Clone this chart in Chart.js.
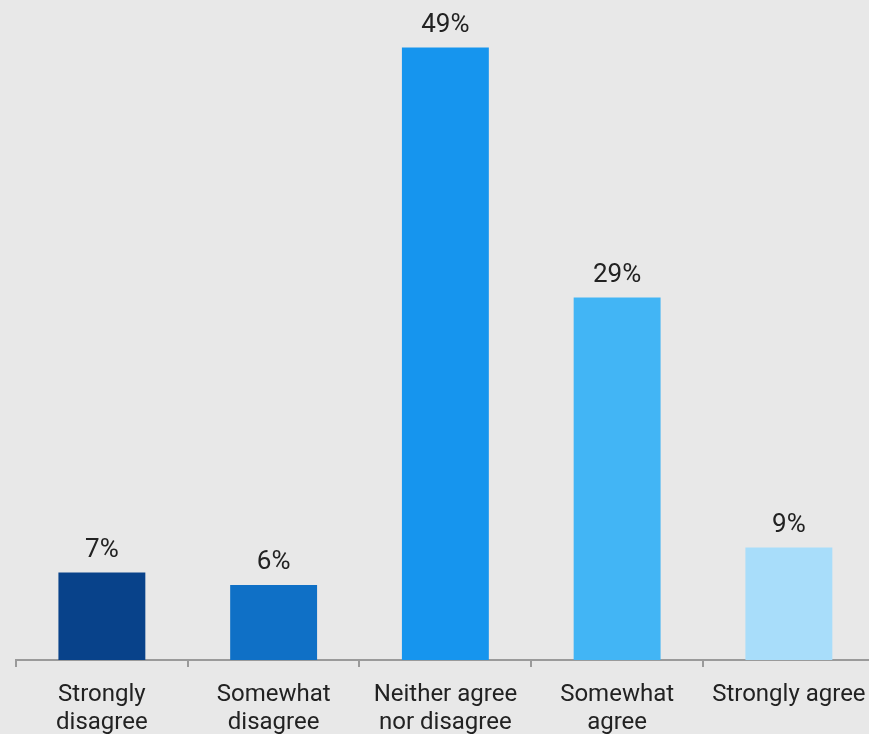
<!DOCTYPE html>
<html>
<head>
<meta charset="utf-8">
<script src="https://cdn.jsdelivr.net/npm/chart.js@4/dist/chart.umd.min.js"></script>
<style>
  html, body { margin: 0; padding: 0; background: #e8e8e8; overflow: hidden; }
  #wrap { position: relative; width: 880px; height: 734px; }
</style>
</head>
<body>
<div id="wrap"><canvas id="chart"></canvas></div>
<script>
const categories = [
  ['Strongly', 'disagree'],
  ['Somewhat', 'disagree'],
  ['Neither agree', 'nor disagree'],
  ['Somewhat', 'agree'],
  'Strongly agree',
];
const shares = [7, 6, 49, 29, 9];
const barColors = ['#08428a', '#0f70c6', '#1695ee', '#42b5f5', '#a8ddfa'];

// percentage labels above each bar
const valueLabels = {
  id: 'valueLabels',
  afterDatasetsDraw(chart) {
    const { ctx } = chart;
    const meta = chart.getDatasetMeta(0);
    ctx.save();
    ctx.font = '26px Roboto';
    ctx.fillStyle = '#222';
    ctx.textAlign = 'center';
    ctx.textBaseline = 'alphabetic';
    meta.data.forEach((bar, i) => {
      ctx.fillText(shares[i] + '%', bar.x, bar.y - 16);
    });
    ctx.restore();
  },
};

new Chart(document.getElementById('chart'), {
  type: 'bar',
  data: {
    labels: categories,
    datasets: [{
      data: shares,
      backgroundColor: barColors,
      categoryPercentage: 1,
      barPercentage: 0.506,
    }],
  },
  options: {
    responsive: true,
    maintainAspectRatio: false,
    animation: false,
    layout: { padding: { left: 16, right: 4, top: 0, bottom: 0 } },
    plugins: {
      legend: { display: false },
      tooltip: { enabled: false },
    },
    scales: {
      x: {
        afterFit(scale) { scale.height = 74; },
        border: { color: '#9a9a9a', width: 2 },
        grid: {
          drawOnChartArea: false,
          drawTicks: true,
          tickLength: 7,
          color: '#9a9a9a',
          lineWidth: 2,
        },
        ticks: {
          maxRotation: 0,
          autoSkip: false,
          padding: 14,
          color: '#222',
          font: { family: 'Roboto', size: 24, lineHeight: 1.17 },
        },
      },
      y: {
        display: false,
        min: 0,
        max: 52.8,
      },
    },
  },
  plugins: [valueLabels],
});
</script>
</body>
</html>
